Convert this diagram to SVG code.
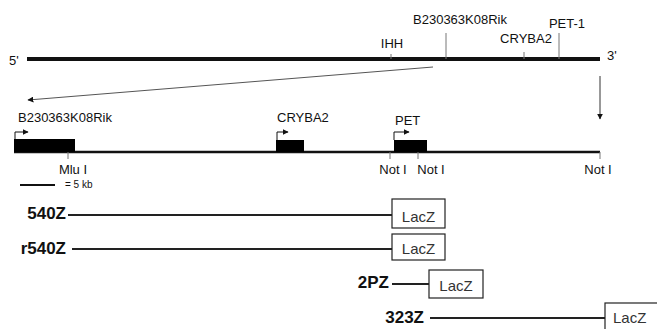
<svg xmlns="http://www.w3.org/2000/svg" width="657" height="329" viewBox="0 0 657 329">
<style>
text{font-family:"Liberation Sans",Arial,sans-serif;fill:#111}
.g{font-size:13px}
.c{font-size:17px;font-weight:bold}
.z{font-size:15px;fill:#333}
.tk{stroke:#777;stroke-width:1;fill:none}
.bx{fill:#fff;stroke:#222;stroke-width:1.2}
.cl{stroke:#222;stroke-width:2}
.pr{stroke:#111;stroke-width:1;fill:none}
</style>
<defs>
<marker id="ah" viewBox="0 0 10 10" refX="9" refY="5" markerWidth="6" markerHeight="6" orient="auto" markerUnits="userSpaceOnUse">
<path d="M0,0 L10,5 L0,10 z" fill="#111"/>
</marker>
</defs>
<g id="chromosome">
<line x1="27" y1="59" x2="600" y2="59" stroke="#111" stroke-width="4"/>
<text x="9" y="65" class="g">5'</text>
<text x="607" y="60" class="g">3'</text>
<line class="tk" x1="391" y1="54" x2="391" y2="59"/>
<text x="392" y="48" class="g" text-anchor="middle">IHH</text>
<line class="tk" x1="446" y1="33" x2="446" y2="59"/>
<text x="460" y="24" class="g" text-anchor="middle">B230363K08Rik</text>
<line class="tk" x1="524" y1="52" x2="524" y2="59"/>
<text x="526" y="43" class="g" text-anchor="middle">CRYBA2</text>
<line class="tk" x1="559" y1="33" x2="559" y2="59"/>
<text x="567" y="28" class="g" text-anchor="middle">PET-1</text>
</g>
<g id="connectors">
<line x1="433" y1="67" x2="28" y2="100" stroke="#555" stroke-width="1" marker-end="url(#ah)"/>
<line x1="600" y1="76" x2="600" y2="119" stroke="#333" stroke-width="1" marker-end="url(#ah)"/>
</g>
<g id="locus">
<line x1="14" y1="152" x2="600" y2="152" stroke="#111" stroke-width="2.5"/>
<rect x="14" y="139" width="61" height="13" fill="#000"/>
<rect x="276" y="140" width="28" height="12" fill="#000"/>
<rect x="394" y="140" width="33" height="12" fill="#000"/>
<path class="pr" d="M15,139 V132 H28" marker-end="url(#ah)"/>
<path class="pr" d="M277,140 V132 H288" marker-end="url(#ah)"/>
<path class="pr" d="M394,140 V132 H409" marker-end="url(#ah)"/>
<text x="18" y="122" class="g">B230363K08Rik</text>
<text x="277" y="122" class="g">CRYBA2</text>
<text x="395" y="125" class="g">PET</text>
<line class="tk" x1="68" y1="152" x2="68" y2="159"/>
<text x="73" y="174" class="g" text-anchor="middle">Mlu I</text>
<line class="tk" x1="390" y1="152" x2="390" y2="159"/>
<text x="393" y="174" class="g" text-anchor="middle">Not I</text>
<line class="tk" x1="418" y1="152" x2="418" y2="159"/>
<text x="431" y="174" class="g" text-anchor="middle">Not I</text>
<line class="tk" x1="600" y1="152" x2="600" y2="159"/>
<text x="598" y="174" class="g" text-anchor="middle">Not I</text>
<line x1="20" y1="185" x2="55" y2="185" stroke="#111" stroke-width="2"/>
<text x="65" y="188" font-size="10">= 5 kb</text>
</g>
<g id="c540Z">
<text x="66" y="219" class="c" text-anchor="end">540Z</text>
<line class="cl" x1="68" y1="215" x2="392" y2="215"/>
<rect class="bx" x="392" y="199" width="53" height="29"/>
<text x="418.5" y="222" class="z" text-anchor="middle">LacZ</text>
</g>
<g id="r540Z">
<text x="66" y="254" class="c" text-anchor="end">r540Z</text>
<line class="cl" x1="72" y1="249" x2="392" y2="249"/>
<rect class="bx" x="392" y="234" width="53" height="26"/>
<text x="418.5" y="254" class="z" text-anchor="middle">LacZ</text>
</g>
<g id="c2PZ">
<text x="389" y="288" class="c" text-anchor="end">2PZ</text>
<line class="cl" x1="392" y1="284" x2="429" y2="284"/>
<rect class="bx" x="429" y="270" width="54" height="28"/>
<text x="456" y="291" class="z" text-anchor="middle">LacZ</text>
</g>
<g id="c323Z">
<text x="424" y="323" class="c" text-anchor="end">323Z</text>
<line class="cl" x1="430" y1="318" x2="605" y2="318"/>
<rect class="bx" x="605" y="303" width="56" height="30"/>
<text x="613" y="323" class="z">LacZ</text>
</g>
</svg>
